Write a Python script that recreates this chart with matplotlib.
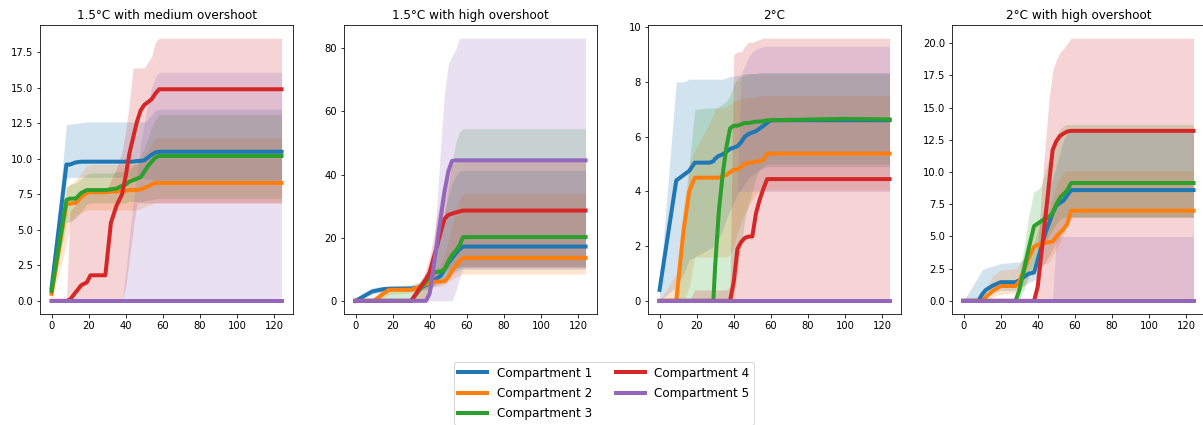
"""Cumulative compartment curves for four temperature pathways, with ranges."""
import matplotlib
matplotlib.use("Agg")
import matplotlib.pyplot as plt
from matplotlib.lines import Line2D

titles = ["1.5°C with medium overshoot", "1.5°C with high overshoot",
          "2°C", "2°C with high overshoot"]
labels = ["Compartment 1", "Compartment 2", "Compartment 3",
          "Compartment 4", "Compartment 5"]
colors = ["tab:blue", "tab:orange", "tab:green", "tab:red", "tab:purple"]

# --- 1.5°C with medium overshoot ---
x_med = [0, 8, 10, 13, 16, 19, 21, 29, 32, 35, 38, 40, 42, 44, 46, 48, 50, 52, 54, 56, 58, 124]
med_mean_1 = [0.9, 9.6, 9.6, 9.75, 9.8, 9.8, 9.8, 9.8, 9.8, 9.8, 9.8, 9.8, 9.8, 9.8, 9.85, 9.85, 9.9, 10.1, 10.3, 10.45, 10.5, 10.5]
med_lo_1 = [0.5, 8.6, 8.7, 8.7, 8.7, 8.7, 8.7, 8.7, 8.7, 8.7, 8.7, 8.7, 8.7, 8.7, 8.7, 8.7, 8.6, 8.6, 8.5, 8.5, 8.5, 8.5]
med_hi_1 = [1.2, 12.4, 12.45, 12.5, 12.55, 12.6, 12.6, 12.6, 12.6, 12.6, 12.6, 12.6, 12.6, 12.6, 12.6, 12.6, 12.6, 12.8, 13.1, 13.4, 13.5, 13.5]
med_mean_2 = [0.5, 6.8, 6.85, 6.9, 7.3, 7.6, 7.65, 7.65, 7.7, 7.7, 7.75, 7.75, 7.8, 7.8, 7.8, 7.85, 7.95, 8.05, 8.2, 8.3, 8.3, 8.3]
med_lo_2 = [0.0, 4.0, 5.5, 6.0, 6.2, 6.4, 6.4, 6.4, 6.4, 6.4, 6.4, 6.4, 6.4, 6.4, 6.4, 6.5, 6.6, 6.7, 6.8, 6.9, 6.9, 6.9]
med_hi_2 = [1.0, 8.0, 8.2, 8.5, 9.0, 9.5, 9.6, 9.6, 9.6, 9.6, 9.6, 9.6, 9.6, 9.6, 9.6, 9.8, 10.2, 10.6, 11.0, 11.4, 11.5, 11.5]
med_mean_3 = [0.7, 7.1, 7.2, 7.2, 7.6, 7.8, 7.8, 7.8, 7.85, 7.9, 8.1, 8.2, 8.4, 8.5, 8.6, 8.7, 9.1, 9.5, 9.8, 10.1, 10.2, 10.2]
med_lo_3 = [0.3, 5.5, 5.6, 5.8, 6.3, 6.8, 6.9, 6.9, 6.9, 6.9, 6.9, 6.9, 7.0, 7.0, 7.0, 7.0, 7.0, 7.1, 7.1, 7.2, 7.2, 7.2]
med_hi_3 = [1.1, 8.0, 8.2, 8.3, 8.6, 8.9, 9.0, 9.0, 9.0, 9.1, 9.1, 9.2, 9.3, 9.5, 9.8, 10.2, 10.8, 11.5, 12.2, 12.8, 13.1, 13.1]
med_mean_4 = [0.0, 0.0, 0.1, 0.6, 1.1, 1.3, 1.8, 1.8, 5.5, 6.7, 7.5, 8.8, 10.4, 11.5, 12.6, 13.4, 13.8, 14.0, 14.2, 14.6, 14.9, 14.9]
med_lo_4 = [0, 0, 0, 0, 0, 0, 0, 0, 0, 0, 0, 1.0, 3.0, 5.0, 6.9, 6.9, 6.9, 6.9, 6.9, 6.9, 6.9, 6.9]
med_hi_4 = [0, 0, 6.3, 6.8, 7.2, 7.5, 7.6, 7.6, 8.5, 9.3, 10.5, 12.0, 14.0, 16.4, 16.4, 16.4, 16.4, 16.8, 17.2, 18.2, 18.5, 18.5]
med_mean_5 = [0, 0, 0, 0, 0, 0, 0, 0, 0, 0, 0, 0, 0, 0, 0, 0, 0, 0, 0, 0, 0, 0]
med_lo_5 = [0, 0, 0, 0, 0, 0, 0, 0, 0, 0, 0, 0, 0, 0, 0, 0, 0, 0, 0, 0, 0, 0]
med_hi_5 = [0, 0, 0, 0, 0, 0, 0, 0, 0, 0, 0, 2.0, 4.5, 7.0, 9.0, 11.0, 12.5, 14.0, 15.0, 15.8, 16.1, 16.1]

# --- 1.5°C with high overshoot ---
x_high = [0, 9, 10, 15, 18, 30, 35, 38, 40, 42, 44, 46, 48, 50, 52, 54, 56, 58, 124]
high_mean_1 = [0, 3.0, 3.1, 3.7, 3.8, 3.9, 4.2, 5.0, 5.5, 6.3, 7.2, 8.0, 10.0, 12.0, 13.5, 15.0, 16.3, 17.2, 17.2]
high_lo_1 = [0, 2.0, 2.2, 2.8, 3.0, 3.0, 3.2, 3.5, 4.0, 4.5, 5.0, 5.5, 6.5, 7.5, 8.5, 9.2, 9.8, 10.0, 10.0]
high_hi_1 = [0, 4.0, 4.2, 4.6, 4.8, 5.0, 6.0, 8.0, 10.0, 14.0, 18.0, 22.0, 28.0, 33.0, 37.0, 39.5, 41.0, 41.3, 41.3]
high_mean_2 = [0, 0, 0, 2.3, 3.5, 3.5, 4.5, 5.3, 5.7, 6.0, 6.1, 6.1, 6.2, 7.5, 9.5, 11.0, 12.5, 13.6, 13.6]
high_lo_2 = [0, 0, 0, 1.0, 2.0, 2.5, 3.5, 4.0, 4.3, 4.5, 4.6, 4.7, 5.0, 6.0, 6.8, 7.5, 8.2, 8.5, 8.5]
high_hi_2 = [0, 0.5, 1.0, 3.8, 4.8, 5.0, 6.0, 7.0, 8.0, 9.0, 10.0, 12.0, 15.0, 19.0, 24.0, 28.0, 32.0, 34.0, 34.0]
high_mean_3 = [0, 0, 0, 0, 0, 0, 3.9, 6.1, 7.6, 9.0, 9.2, 9.3, 10.0, 12.5, 14.5, 15.8, 17.5, 20.2, 20.2]
high_lo_3 = [0, 0, 0, 0, 0, 0, 0, 0, 3.0, 5.0, 6.0, 6.5, 7.0, 8.0, 9.0, 10.0, 10.5, 11.0, 11.0]
high_hi_3 = [0, 0, 0, 3.0, 3.5, 3.5, 6.0, 9.0, 12.0, 15.0, 18.0, 22.0, 28.0, 36.0, 44.0, 50.0, 53.5, 54.5, 54.5]
high_mean_4 = [0, 0, 0, 0, 0, 0, 4.4, 6.9, 9.0, 13.5, 17.5, 22.0, 26.0, 27.2, 27.6, 28.0, 28.3, 28.6, 28.6]
high_lo_4 = [0, 0, 0, 0, 0, 0, 0, 0, 2.0, 5.0, 7.0, 8.5, 9.5, 10.0, 10.3, 10.5, 10.7, 10.7, 10.7]
high_hi_4 = [0, 0, 0, 0, 0, 0, 6.0, 10.0, 14.0, 20.0, 27.0, 33.0, 38.0, 41.0, 43.0, 44.0, 44.3, 44.3, 44.3]
high_mean_5 = [0, 0, 0, 0, 0, 0, 0, 0, 2.4, 10.5, 18.6, 26.7, 34.8, 41.0, 44.3, 44.5, 44.5, 44.5, 44.5]
high_lo_5 = [0, 0, 0, 0, 0, 0, 0, 0, 0, 0, 0, 0, 0, 0, 0, 3.0, 7.0, 10.5, 10.5]
high_hi_5 = [0, 0, 0, 0, 0, 0, 0, 0, 5.0, 15.0, 32.0, 50.0, 66.0, 75.0, 77.5, 79.5, 83.2, 83.2, 83.2]

# --- 2°C ---
x_two = [0, 9, 13, 16, 19, 27, 29, 30, 32, 34, 36, 38, 40, 42, 44, 46, 48, 50, 52, 54, 56, 58, 60, 100, 124]
two_mean_1 = [0.4, 4.4, 4.6, 4.75, 5.05, 5.05, 5.1, 5.2, 5.3, 5.35, 5.45, 5.55, 5.6, 5.65, 5.8, 6.0, 6.1, 6.15, 6.2, 6.3, 6.4, 6.5, 6.6, 6.6, 6.6]
two_lo_1 = [0.0, 0.5, 1.0, 1.5, 1.6, 1.9, 2.0, 2.1, 2.3, 2.6, 3.0, 3.3, 3.6, 3.9, 4.1, 4.3, 4.5, 4.6, 4.7, 4.8, 4.85, 4.9, 4.9, 4.9, 4.9]
two_hi_1 = [0.5, 8.0, 8.0, 8.1, 8.1, 8.1, 8.1, 8.1, 8.1, 8.1, 8.15, 8.2, 8.2, 8.25, 8.25, 8.3, 8.3, 8.3, 8.3, 8.35, 8.35, 8.35, 8.35, 8.35, 8.35]
two_mean_2 = [0, 0, 2.6, 4.0, 4.5, 4.5, 4.5, 4.5, 4.5, 4.55, 4.6, 4.7, 4.8, 4.8, 4.9, 5.0, 5.05, 5.05, 5.1, 5.1, 5.15, 5.38, 5.38, 5.38, 5.38]
two_lo_2 = [0, 0, 0, 0.5, 1.6, 1.6, 1.6, 1.6, 1.6, 1.6, 1.6, 1.7, 2.0, 2.5, 2.9, 3.2, 3.5, 3.7, 3.9, 4.0, 4.05, 4.05, 4.05, 4.05, 4.05]
two_hi_2 = [0, 1.0, 3.5, 5.0, 5.5, 6.5, 6.8, 7.0, 7.05, 7.05, 7.1, 7.2, 7.3, 7.35, 7.4, 7.4, 7.45, 7.45, 7.45, 7.5, 7.5, 7.5, 7.5, 7.5, 7.5]
two_mean_3 = [0, 0, 0, 0, 0, 0, 0, 1.3, 3.3, 4.6, 5.6, 6.3, 6.4, 6.4, 6.45, 6.5, 6.5, 6.52, 6.55, 6.55, 6.57, 6.6, 6.6, 6.65, 6.63]
two_lo_3 = [0, 0, 0, 0, 0, 0, 0, 0, 0, 0, 0, 0, 0, 1.0, 2.0, 3.0, 3.5, 4.0, 4.5, 4.8, 4.9, 5.0, 5.0, 5.0, 5.0]
two_hi_3 = [0, 0, 2.0, 5.0, 7.0, 7.05, 7.05, 7.05, 7.1, 7.2, 7.3, 7.5, 7.9, 8.1, 8.2, 8.25, 8.3, 8.3, 8.3, 8.3, 8.3, 8.3, 8.3, 8.3, 8.3]
two_mean_4 = [0, 0, 0, 0, 0, 0, 0, 0, 0, 0, 0, 0, 0.7, 1.9, 2.15, 2.3, 2.35, 2.35, 3.2, 3.7, 4.1, 4.45, 4.45, 4.45, 4.45]
two_lo_4 = [0, 0, 0, 0, 0, 0, 0, 0, 0, 0, 0, 0, 0, 0, 0, 0, 0, 0, 0, 0, 0, 0, 0, 0, 0]
two_hi_4 = [0, 0, 0, 0, 0.4, 0.4, 0.4, 0.4, 0.4, 0.4, 0.4, 0.5, 9.0, 9.1, 9.1, 9.3, 9.45, 9.45, 9.5, 9.55, 9.6, 9.6, 9.6, 9.6, 9.6]
two_mean_5 = [0, 0, 0, 0, 0, 0, 0, 0, 0, 0, 0, 0, 0, 0, 0, 0, 0, 0, 0, 0, 0, 0, 0, 0, 0]
two_lo_5 = [0, 0, 0, 0, 0, 0, 0, 0, 0, 0, 0, 0, 0, 4.0, 4.0, 4.0, 4.0, 4.0, 4.0, 4.0, 4.0, 4.0, 4.0, 4.0, 4.0]
two_hi_5 = [0, 0, 0, 0, 0, 0, 0, 0, 0, 0, 0, 0, 0, 4.0, 8.3, 8.6, 8.9, 9.1, 9.2, 9.25, 9.3, 9.3, 9.3, 9.3, 9.3]

# --- 2°C with high overshoot ---
x_two_high = [0, 8, 10, 12, 16, 20, 28, 30, 33, 35, 38, 40, 42, 44, 46, 48, 50, 52, 54, 56, 58, 124]
twoh_mean_1 = [0, 0, 0.5, 0.85, 1.2, 1.45, 1.45, 1.6, 1.9, 2.1, 2.2, 3.2, 4.2, 5.2, 6.0, 6.8, 7.4, 7.6, 7.8, 8.2, 8.6, 8.6]
twoh_lo_1 = [0, 0, 0.2, 0.4, 0.6, 0.8, 0.8, 1.0, 1.2, 1.4, 1.6, 2.0, 2.5, 3.0, 3.5, 4.0, 4.5, 5.0, 5.5, 6.0, 6.5, 6.5]
twoh_hi_1 = [0, 1.9, 2.4, 2.55, 2.7, 2.9, 3.0, 3.0, 3.3, 3.8, 4.5, 5.5, 6.5, 7.5, 8.5, 9.5, 10.5, 11.5, 12.5, 13.0, 13.1, 13.1]
twoh_mean_2 = [0, 0, 0, 0.3, 0.8, 1.15, 1.15, 1.5, 2.5, 3.3, 4.2, 4.35, 4.45, 4.5, 4.55, 4.6, 5.0, 5.3, 5.6, 6.0, 7.0, 7.0]
twoh_lo_2 = [0, 0, 0, 0.1, 0.3, 0.5, 0.6, 0.8, 1.3, 1.8, 2.5, 2.7, 2.8, 2.9, 3.0, 3.5, 4.0, 4.5, 5.2, 6.0, 6.5, 6.5]
twoh_hi_2 = [0, 0, 0.5, 1.0, 2.0, 2.4, 2.5, 2.8, 3.5, 4.5, 5.5, 6.0, 6.3, 6.6, 7.0, 8.0, 9.0, 9.6, 10.0, 10.1, 10.1, 10.1]
twoh_mean_3 = [0, 0, 0, 0, 0, 0, 0, 0.8, 2.7, 4.0, 5.8, 6.0, 6.2, 6.4, 6.5, 6.8, 7.5, 8.0, 8.3, 8.6, 9.15, 9.15]
twoh_lo_3 = [0, 0, 0, 0, 0, 0, 0, 0, 1.0, 2.0, 3.0, 3.5, 4.0, 4.5, 5.0, 5.5, 6.0, 6.3, 6.5, 6.5, 6.5, 6.5]
twoh_hi_3 = [0, 0, 0, 0, 0, 0, 0, 2.0, 4.5, 6.5, 8.5, 8.6, 9.0, 10.0, 11.0, 12.0, 12.8, 13.3, 13.6, 13.7, 13.7, 13.7]
twoh_mean_4 = [0, 0, 0, 0, 0, 0, 0, 0, 0, 0, 0, 1.1, 3.7, 6.3, 9.0, 11.7, 12.4, 12.8, 13.0, 13.15, 13.2, 13.2]
twoh_lo_4 = [0, 0, 0, 0, 0, 0, 0, 0, 0, 0, 0, 0, 0, 0, 0, 0, 0, 0, 0, 0, 0, 0]
twoh_hi_4 = [0, 0, 0, 0, 0, 0, 0, 0, 0, 0, 0, 4.0, 8.5, 12.0, 15.5, 17.8, 18.7, 19.3, 19.6, 20.0, 20.4, 20.4]
twoh_mean_5 = [0, 0, 0, 0, 0, 0, 0, 0, 0, 0, 0, 0, 0, 0, 0, 0, 0, 0, 0, 0, 0, 0]
twoh_lo_5 = [0, 0, 0, 0, 0, 0, 0, 0, 0, 0, 0, 0, 0, 0, 0, 0, 0, 0, 0, 0, 0, 0]
twoh_hi_5 = [0, 0, 0, 0, 0, 0, 0, 0, 0, 0, 0, 0, 0, 0, 0, 0, 5.0, 5.0, 5.0, 5.0, 5.0, 5.0]

panels = [
    (x_med, [(med_mean_1, med_lo_1, med_hi_1), (med_mean_2, med_lo_2, med_hi_2),
             (med_mean_3, med_lo_3, med_hi_3), (med_mean_4, med_lo_4, med_hi_4),
             (med_mean_5, med_lo_5, med_hi_5)]),
    (x_high, [(high_mean_1, high_lo_1, high_hi_1), (high_mean_2, high_lo_2, high_hi_2),
              (high_mean_3, high_lo_3, high_hi_3), (high_mean_4, high_lo_4, high_hi_4),
              (high_mean_5, high_lo_5, high_hi_5)]),
    (x_two, [(two_mean_1, two_lo_1, two_hi_1), (two_mean_2, two_lo_2, two_hi_2),
             (two_mean_3, two_lo_3, two_hi_3), (two_mean_4, two_lo_4, two_hi_4),
             (two_mean_5, two_lo_5, two_hi_5)]),
    (x_two_high, [(twoh_mean_1, twoh_lo_1, twoh_hi_1), (twoh_mean_2, twoh_lo_2, twoh_hi_2),
                  (twoh_mean_3, twoh_lo_3, twoh_hi_3), (twoh_mean_4, twoh_lo_4, twoh_hi_4),
                  (twoh_mean_5, twoh_lo_5, twoh_hi_5)]),
]

fig = plt.figure(figsize=(1203 / 72, 425 / 72), dpi=72)
lefts = [0.0333, 0.2860, 0.5387, 0.7914]

for left, title, (x, series) in zip(lefts, titles, panels):
    ax = fig.add_axes([left, 0.2612, 0.2103, 0.68])
    # shaded ranges first, mean curves on top
    for (mean, lo, hi), color in zip(series, colors):
        ax.fill_between(x, lo, hi, color=color, alpha=0.2, linewidth=0)
    for (mean, lo, hi), color in zip(series, colors):
        ax.plot(x, mean, color=color, linewidth=4)
    ax.set_title(title, fontsize=12)
    ax.set_xticks([0, 20, 40, 60, 80, 100, 120])

handles = [Line2D([0], [0], color=c, linewidth=4) for c in colors]
fig.legend(handles, labels, loc="upper center", bbox_to_anchor=(0.502, 0.163),
           ncol=2, fontsize=12, handlelength=2.4, labelspacing=0.6)

fig.savefig("out.png", dpi=72)
